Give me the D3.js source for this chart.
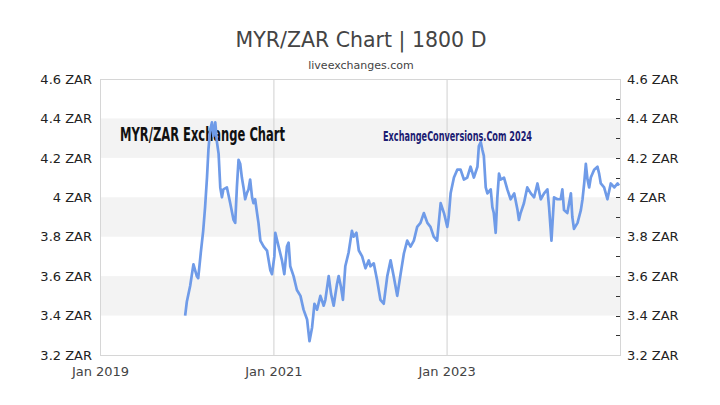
<!DOCTYPE html>
<html>
<head>
<meta charset="utf-8">
<script src="https://cdn.jsdelivr.net/npm/d3@7"></script>
<style>
  html, body { margin: 0; padding: 0; background: #fff; }
  svg { display: block; }
</style>
</head>
<body>
<svg id="chart" width="720" height="405"></svg>
<script>
const titleText = "MYR/ZAR Chart | 1800 D";
const subtitleText = "liveexchanges.com";
const watermarkLeft = "MYR/ZAR Exchange Chart";
const watermarkRight = "ExchangeConversions.Com 2024";

const yTicks = [3.2, 3.4, 3.6, 3.8, 4.0, 4.2, 4.4, 4.6];
const yMinorTicks = [3.3, 3.5, 3.7, 3.9, 4.1, 4.3, 4.5];
const xTickDates = ["2019-01-01", "2021-01-01", "2023-01-01"];
const xTickLabels = ["Jan 2019", "Jan 2021", "Jan 2023"];
const bandRanges = [[4.2, 4.4], [3.8, 4.0], [3.4, 3.6]];

const dates = [
"2019-12-26","2020-01-02","2020-01-16","2020-01-30","2020-02-13","2020-02-19","2020-03-01","2020-03-11","2020-03-19","2020-03-27",
"2020-04-02","2020-04-09","2020-04-17","2020-04-23","2020-05-01","2020-05-08","2020-05-15","2020-05-22","2020-05-29","2020-06-04",
"2020-06-19","2020-07-03","2020-07-17","2020-07-24","2020-07-31","2020-08-07","2020-08-14","2020-08-21","2020-08-28","2020-09-04",
"2020-09-11","2020-09-18","2020-09-25","2020-10-03","2020-10-09","2020-10-16","2020-10-24","2020-10-30","2020-11-07","2020-11-21",
"2020-12-05","2020-12-19","2020-12-26","2021-01-05","2021-01-09","2021-01-23","2021-02-06","2021-02-16","2021-02-27","2021-03-06",
"2021-03-13","2021-03-27","2021-04-10","2021-04-25","2021-05-08","2021-05-23","2021-06-02","2021-06-13","2021-06-23","2021-07-04",
"2021-07-18","2021-08-01","2021-08-08","2021-08-22","2021-09-01","2021-09-12","2021-09-26","2021-10-03","2021-10-13","2021-10-21",
"2021-10-31","2021-11-14","2021-11-28","2021-12-05","2021-12-17","2021-12-27","2022-01-10","2022-01-24","2022-02-07","2022-02-14",
"2022-02-28","2022-03-14","2022-03-28","2022-04-11","2022-04-26","2022-05-10","2022-05-23","2022-06-07","2022-06-21","2022-07-05",
"2022-07-19","2022-08-02","2022-08-16","2022-08-30","2022-09-13","2022-09-27","2022-10-12","2022-10-25","2022-11-08","2022-11-22",
"2022-12-07","2022-12-21","2023-01-04","2023-01-10","2023-01-18","2023-02-01","2023-02-15","2023-03-01","2023-03-15","2023-03-29",
"2023-04-12","2023-04-26","2023-05-11","2023-05-17","2023-05-25","2023-06-01","2023-06-07","2023-06-15","2023-06-22","2023-07-06",
"2023-07-13","2023-07-19","2023-07-27","2023-08-03","2023-08-10","2023-08-17","2023-08-31","2023-09-14","2023-09-28","2023-10-13",
"2023-10-27","2023-11-02","2023-11-09","2023-11-23","2023-12-07","2023-12-22","2024-01-05","2024-01-19","2024-02-02","2024-02-16",
"2024-03-01","2024-03-08","2024-03-18","2024-03-29","2024-04-12","2024-04-26","2024-05-03","2024-05-10","2024-05-24","2024-06-08",
"2024-06-14","2024-06-21","2024-07-06","2024-07-20","2024-07-27","2024-08-03","2024-08-10","2024-08-17","2024-08-24","2024-08-31",
"2024-09-14","2024-09-28","2024-10-05","2024-10-12","2024-10-26","2024-11-09","2024-11-23","2024-12-08","2024-12-22","2024-12-28"
];
const rates = [
3.40,3.47,3.55,3.66,3.60,3.59,3.72,3.83,3.95,4.10,
4.24,4.34,4.38,4.31,4.38,4.28,4.22,4.05,4.00,4.04,
4.05,3.97,3.885,3.87,4.05,4.19,4.17,4.10,4.05,3.99,
4.02,4.04,4.09,4.00,3.97,3.99,3.92,3.87,3.78,3.75,
3.73,3.63,3.61,3.70,3.82,3.75,3.68,3.61,3.75,3.77,
3.65,3.60,3.53,3.50,3.43,3.38,3.27,3.34,3.46,3.43,
3.50,3.45,3.48,3.60,3.51,3.45,3.56,3.60,3.545,3.48,
3.65,3.72,3.83,3.80,3.82,3.73,3.70,3.64,3.68,3.65,
3.665,3.58,3.48,3.46,3.60,3.68,3.60,3.50,3.61,3.715,
3.78,3.75,3.78,3.85,3.87,3.92,3.87,3.85,3.80,3.78,
3.97,3.92,3.85,3.90,4.02,4.10,4.14,4.14,4.09,4.10,
4.155,4.10,4.155,4.26,4.28,4.24,4.21,4.05,4.02,4.04,
3.95,3.92,3.82,4.00,4.12,4.09,4.10,4.04,3.99,4.02,
3.935,3.885,3.92,3.97,4.05,4.02,4.00,4.07,3.99,4.02,
4.04,3.95,3.78,4.00,3.99,3.99,4.04,3.935,3.92,4.02,
3.90,3.84,3.87,3.935,3.99,4.07,4.17,4.09,4.05,4.10,
4.14,4.155,4.12,4.07,4.05,3.99,4.07,4.05,4.07,4.06
];

const parse = d3.utcParse("%Y-%m-%d");
const data = dates.map((d, i) => ({ date: parse(d), value: rates[i] }));

const svg = d3.select("#chart");
const x = d3.scaleUtc().domain([parse("2019-01-01"), parse("2025-01-01")]).range([100, 620]);
const y = d3.scaleLinear().domain([3.2, 4.6]).range([355, 79]);

// bands
svg.append("g").selectAll("rect").data(bandRanges).join("rect")
  .attr("x", x.range()[0]).attr("width", x.range()[1] - x.range()[0])
  .attr("y", d => y(d[1])).attr("height", d => y(d[0]) - y(d[1]))
  .attr("fill", "#f3f3f3");

// vertical grid lines
svg.append("g").selectAll("line").data(xTickDates.slice(1)).join("line")
  .attr("x1", d => x(parse(d)) + 0.5).attr("x2", d => x(parse(d)) + 0.5)
  .attr("y1", y(4.6)).attr("y2", y(3.2))
  .attr("stroke", "#d0d0d0").attr("stroke-width", 1);

// frame
svg.append("rect")
  .attr("x", 100.5).attr("y", 79.5).attr("width", 520).attr("height", 276)
  .attr("fill", "none").attr("stroke", "#d6d6d6").attr("stroke-width", 1);

// watermarks
svg.append("text").attr("x", 120).attr("y", 141)
  .attr("font-family", "'Liberation Sans Narrow','DejaVu Sans Condensed','Roboto Condensed',sans-serif")
  .attr("font-weight", "bold").attr("font-size", 19.5).attr("fill", "#111")
  .attr("textLength", 165).attr("lengthAdjust", "spacingAndGlyphs")
  .text(watermarkLeft);
svg.append("text").attr("x", 383).attr("y", 140.5)
  .attr("font-family", "'Liberation Sans Narrow','DejaVu Sans Condensed',sans-serif")
  .attr("font-weight", "bold").attr("font-size", 13.5).attr("fill", "#1c1c72")
  .attr("textLength", 149).attr("lengthAdjust", "spacingAndGlyphs")
  .text(watermarkRight);

// line
const line = d3.line().x(d => x(d.date)).y(d => y(d.value)).curve(d3.curveLinear);
svg.append("path").datum(data)
  .attr("d", line).attr("fill", "none")
  .attr("stroke", "#6f9be8").attr("stroke-width", 2.7).attr("stroke-linejoin", "round");

// left axis labels
const yFmt = d => (d === 4 ? "4" : d3.format(".1f")(d)) + " ZAR";
const leftAxis = d3.axisLeft(y).tickValues(yTicks).tickFormat(yFmt).tickSize(0).tickPadding(8);
const gl = svg.append("g").attr("transform", "translate(100,0)").call(leftAxis);
gl.select(".domain").remove();
gl.selectAll("text").attr("font-family", "'DejaVu Sans',sans-serif").attr("font-size", 13).attr("fill", "#222");

// right axis
const rightAxis = d3.axisRight(y).tickValues(yTicks).tickFormat(yFmt).tickSize(0).tickPadding(7);
const gr = svg.append("g").attr("transform", "translate(620,0)").call(rightAxis);
gr.select(".domain").remove();
gr.selectAll("text").attr("font-family", "'DejaVu Sans',sans-serif").attr("font-size", 13).attr("fill", "#222");
svg.append("g").selectAll("line").data(yTicks.concat(yMinorTicks).filter(v => v > 3.2 && v < 4.6)).join("line")
  .attr("x1", 616).attr("x2", 620)
  .attr("y1", d => Math.round(y(d)) + 0.5).attr("y2", d => Math.round(y(d)) + 0.5)
  .attr("stroke", "#333").attr("stroke-width", 1);

// bottom axis labels
const bottomAxis = d3.axisBottom(x).tickValues(xTickDates.map(parse))
  .tickFormat((d, i) => xTickLabels[i]).tickSize(0).tickPadding(12);
const gb = svg.append("g").attr("transform", "translate(0,355)").call(bottomAxis);
gb.select(".domain").remove();
gb.selectAll("text").attr("font-family", "'DejaVu Sans',sans-serif").attr("font-size", 13).attr("fill", "#444");

// titles
svg.append("text").attr("x", 361).attr("y", 47).attr("text-anchor", "middle")
  .attr("font-family", "'DejaVu Sans',sans-serif").attr("font-size", 20.5).attr("fill", "#444")
  .text(titleText);
svg.append("text").attr("x", 361).attr("y", 69).attr("text-anchor", "middle")
  .attr("font-family", "'DejaVu Sans',sans-serif").attr("font-size", 11).attr("fill", "#444")
  .text(subtitleText);
</script>
</body>
</html>
